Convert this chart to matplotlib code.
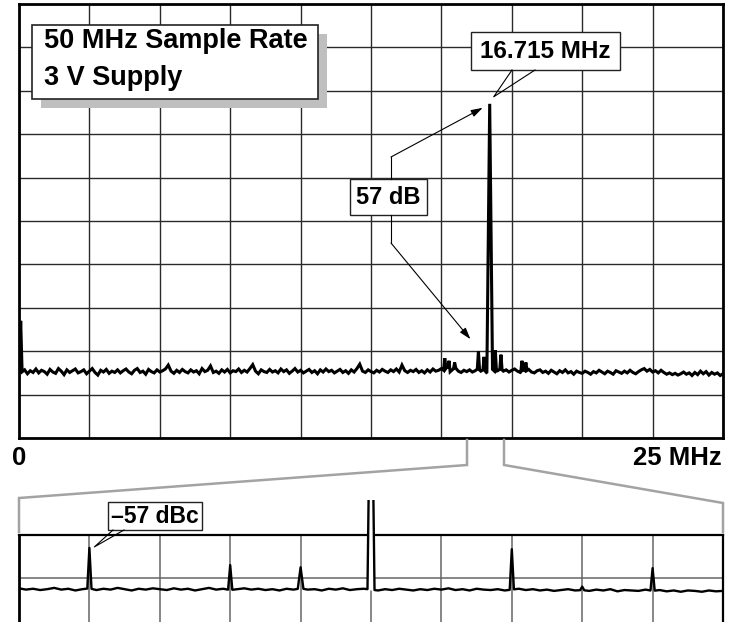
import numpy as np
import matplotlib
matplotlib.use("Agg")
import matplotlib.pyplot as plt
from matplotlib.patches import Rectangle
from matplotlib.lines import Line2D

plt.rcParams['font.family'] = ['Liberation Sans', 'DejaVu Sans']

W, H = 733, 622

# ---------------- full span: 0 .. 25 MHz, 0.1 MHz bins (dBFS) ----------------
span_start_mhz = 0.0
span_step_mhz = 0.1
span_floor_db = [
    -84.0, -84.8, -84.3, -85.2, -84.5, -84.9, -84.1, -85.0, -84.4, -84.7,
    -85.3, -84.2, -84.8, -85.1, -84.0, -84.6, -85.4, -84.3, -84.9, -84.5,
    -84.1, -85.0, -84.7, -84.3, -85.2, -84.6, -84.0, -84.9, -85.5, -84.4,
    -84.8, -84.2, -85.1, -84.6, -84.9, -84.3, -85.0, -84.5, -84.1, -84.8,
    -85.2, -84.4, -84.0, -84.9, -84.6, -85.3, -84.2, -84.7, -85.0, -84.3,
    -84.8, -84.5, -84.1, -83.2, -84.6, -85.1, -84.4, -84.9, -84.2, -84.7,
    -85.0, -84.3, -84.8, -84.5, -85.2, -84.0, -84.7, -84.4, -83.4, -84.9,
    -84.6, -85.1, -84.3, -84.8, -84.2, -85.0, -84.5, -84.7, -84.1, -84.9,
    -84.4, -84.8, -84.0, -83.1, -84.6, -85.2, -84.3, -84.7, -84.9, -84.2,
    -84.8, -84.5, -85.0, -84.1, -84.7, -84.3, -85.1, -84.6, -84.0, -84.8,
    -84.4, -85.0, -84.6, -84.2, -84.9, -84.5, -85.2, -84.3, -84.8, -84.1,
    -84.7, -84.4, -85.0, -84.6, -84.2, -84.9, -84.5, -85.1, -84.3, -84.8,
    -84.0, -83.0, -84.6, -84.9, -84.3, -84.7, -85.0, -84.4, -84.8, -84.2,
    -84.6, -84.9, -84.3, -84.7, -84.1, -84.8, -83.2, -84.5, -84.9, -84.4,
    -84.7, -84.2, -84.9, -84.5, -85.0, -84.3, -84.8, -84.1, -84.6, -84.4,
    -84.0, -84.5, -83.6, -84.8, -84.2, -83.8, -84.6, -84.9, -84.4, -84.7,
    -84.3, -84.8, -84.5, -84.0, -84.6, -84.2, -84.9, -84.4, -84.1, -84.7,
    -84.5, -84.0, -84.6, -84.3, -84.8, -84.4, -84.1, -84.6, -84.9, -84.3,
    -84.6, -84.2, -84.8, -85.0, -84.5, -84.3, -84.9, -84.6, -85.1, -84.4,
    -84.8, -85.2, -84.5, -84.9, -84.3, -85.0, -84.7, -85.3, -84.6, -84.9,
    -85.1, -84.6, -84.9, -85.3, -84.7, -85.0, -84.4, -84.8, -85.2, -84.6,
    -84.9, -85.3, -84.5, -84.8, -85.1, -84.6, -85.0, -84.4, -84.9, -85.2,
    -84.7, -84.3, -84.0, -84.6, -84.2, -84.8, -84.5, -85.0, -84.4, -84.9,
    -85.3, -85.0, -85.4, -85.1, -85.5, -85.2, -84.8, -85.3, -85.0, -85.6,
    -84.9, -85.4, -84.6, -85.2, -84.7, -85.5, -84.9, -85.3, -85.0, -85.6,
    -85.2,
]
# discrete tones in the full span (DC, spurs, carrier)
span_tone_mhz = [0.06, 15.12, 15.27, 15.47, 16.315, 16.515, 16.715, 16.915, 17.115, 17.86, 18.0]
span_tone_db = [-73.0, -81.6, -82.2, -82.6, -80.0, -81.3, -23.0, -79.8, -80.8, -82.2, -82.6]
span_tone_halfwidth_mhz = [0.05, 0.04, 0.04, 0.04, 0.04, 0.04, 0.1, 0.04, 0.04, 0.04, 0.04]

carrier_mhz = 16.715
carrier_db = -23.0
spur_mhz = 16.315
spur_db = -80.0

# ---------------- zoomed span around the carrier: 1 MHz, 0.01 MHz bins (dBc) ----------------
zoom_start_mhz = 16.215
zoom_step_mhz = 0.01
zoom_floor_dbc = [
    -66.4, -66.7, -66.5, -66.8, -66.6, -66.3, -66.7, -66.5, -66.9, -66.6,
    -66.4, -66.8, -66.5, -66.7, -66.3, -66.6, -66.9, -66.5, -66.7, -66.4,
    -66.6, -66.8, -66.4, -66.7, -66.5, -66.9, -66.6, -66.3, -66.7, -66.5,
    -66.8, -66.6, -66.4, -66.7, -66.5, -66.8, -66.6, -66.9, -66.5, -66.7,
    -66.4, -66.7, -66.6, -66.9, -66.5, -66.7, -66.4, -66.8, -66.6, -66.5,
    -66.7, -66.9, -66.6, -66.8, -66.5, -66.7, -66.9, -66.6, -66.8, -66.5,
    -66.7, -66.4, -66.8, -66.6, -66.9, -66.5, -66.7, -66.8, -66.6, -66.9,
    -66.7, -66.5, -66.8, -66.6, -66.9, -66.7, -67.0, -66.8, -66.6, -66.9,
    -66.8, -67.0, -66.7, -66.9, -66.6, -67.1, -66.8, -66.9, -67.0, -66.7,
    -67.0, -66.8, -67.1, -66.9, -67.2, -66.9, -67.0, -67.2, -66.9, -67.1,
    -67.0,
]
zoom_tone_mhz = [16.315, 16.515, 16.615, 16.715, 16.915, 17.015, 17.115]
zoom_tone_dbc = [-57.0, -61.0, -61.5, 0.0, -57.3, -66.0, -61.7]
zoom_tone_halfwidth_mhz = [0.003, 0.003, 0.004, 0.005, 0.003, 0.003, 0.003]


def build_trace(start, step, floor, tone_f, tone_v, tone_hw):
    f = start + step * np.arange(len(floor))
    v = np.asarray(floor, float)
    tf = np.asarray(tone_f, float)
    tv = np.asarray(tone_v, float)
    hw = np.asarray(tone_hw, float)
    keep = np.ones(len(f), bool)
    for c, h in zip(tf, hw):
        keep &= np.abs(f - c) > h
    left, right = tf - hw, tf + hw
    fx = np.concatenate([f[keep], left, tf, right])
    vy = np.concatenate([v[keep], np.interp(left, f, v), tv, np.interp(right, f, v)])
    order = np.argsort(fx, kind="stable")
    return fx[order], vy[order]


def fig_xy(px, py):
    return px / W, 1 - py / H


fig = plt.figure(figsize=(W / 100, H / 100), dpi=100)

# ---------------- main spectrum ----------------
ax = fig.add_axes([19 / W, 1 - 438 / H, 704 / W, 434 / H])
ax.set_xlim(0, 25)
ax.set_ylim(-100, 0)
ax.set_xticks(np.arange(0, 25.01, 2.5))
ax.set_yticks(np.arange(-100, 0.1, 10))
ax.grid(True, color="#2a2a2a", lw=1.0)
ax.tick_params(length=0, labelbottom=False, labelleft=False)
for s in ax.spines.values():
    s.set_linewidth(2.0)
    s.set_color("black")

sx, sy = build_trace(span_start_mhz, span_step_mhz, span_floor_db,
                     span_tone_mhz, span_tone_db, span_tone_halfwidth_mhz)
ax.plot(sx, sy, color="black", lw=2.2, solid_joinstyle="miter", zorder=3)

# ---------------- zoomed spectrum ----------------
axz = fig.add_axes([19 / W, 0.0, 704 / W, 87 / H])
axz.set_xlim(zoom_start_mhz, zoom_start_mhz + 1.0)
axz.set_ylim(-54 - 87 / 4.3, -54)
axz.set_xticks(zoom_start_mhz + 0.1 * np.arange(11))
axz.set_yticks([-64])
axz.grid(True, color="#666666", lw=1.1)
axz.tick_params(length=0, labelbottom=False, labelleft=False)
axz.spines["bottom"].set_visible(False)
axz.spines["top"].set_linewidth(1.6)
axz.spines["left"].set_linewidth(2.0)
axz.spines["right"].set_linewidth(1.6)

zx, zy = build_trace(zoom_start_mhz, zoom_step_mhz, zoom_floor_dbc,
                     zoom_tone_mhz, zoom_tone_dbc, zoom_tone_halfwidth_mhz)
# carrier is shown truncated a little above the frame
clip = Rectangle(fig_xy(19, 622), 704 / W, (622 - 500) / H,
                 transform=fig.transFigure, visible=False)
fig.add_artist(clip)
ci = zoom_tone_mhz.index(carrier_mhz)
chw = zoom_tone_halfwidth_mhz[ci]
m = (zx >= carrier_mhz - chw) & (zx <= carrier_mhz + chw)
fill = axz.fill_between(zx[m], zy[m], zy[m].min(), color="white", lw=0, zorder=3)
fill.set_clip_path(clip)
zl, = axz.plot(zx, zy, color="black", lw=1.7, zorder=4)
zl.set_clip_path(clip)

# ---------------- zoom bracket ----------------
gray = "#a3a3a3"
for xs, ys in (([467, 467, 19, 19], [440, 465, 498, 532]),
               ([504, 504, 723, 723], [440, 465, 503, 532])):
    fig.add_artist(Line2D([x / W for x in xs], [1 - y / H for y in ys],
                          color=gray, lw=1.8, solid_joinstyle="miter",
                          transform=fig.transFigure))

# ---------------- axis end labels ----------------
lab = dict(fontsize=18.5, fontweight="bold", va="center")
fig.text(*fig_xy(19.5, 458), "0", ha="center", **lab)
fig.text(*fig_xy(722, 458), "25 MHz", ha="right", **lab)


def box(x0, y0, x1, y1, shadow=None, lw=1.0):
    if shadow:
        fig.add_artist(Rectangle(fig_xy(x0 + shadow, y1 + shadow),
                                 (x1 - x0) / W, (y1 - y0) / H,
                                 transform=fig.transFigure, facecolor="#bfbfbf",
                                 edgecolor="none", zorder=5))
    fig.add_artist(Rectangle(fig_xy(x0, y1), (x1 - x0) / W, (y1 - y0) / H,
                             transform=fig.transFigure, facecolor="white",
                             edgecolor="#222222", lw=lw, zorder=6))


def seg(points, **kw):
    fig.add_artist(Line2D([p[0] / W for p in points], [1 - p[1] / H for p in points],
                          transform=fig.transFigure, color="black",
                          lw=kw.get("lw", 0.8), zorder=7))


def to_px(axes, x, y):
    dx, dy = axes.transData.transform((x, y))
    return dx, H - dy


def arrow(p_from, p_to):
    ax.annotate("", xy=(p_to[0], H - p_to[1]), xycoords="figure pixels",
                xytext=(p_from[0], H - p_from[1]), textcoords="figure pixels",
                arrowprops=dict(arrowstyle="-|>,head_length=0.7,head_width=0.22",
                                color="black", lw=0.8, shrinkA=0, shrinkB=0),
                annotation_clip=False, zorder=7)


# title box
box(32, 25, 318, 99, shadow=9, lw=1.2)
fig.text(*fig_xy(44, 48), "50 MHz Sample Rate", fontsize=19.5, fontweight="bold",
         va="baseline", ha="left", zorder=8)
fig.text(*fig_xy(44, 85), "3 V Supply", fontsize=19.5, fontweight="bold",
         va="baseline", ha="left", zorder=8)

# carrier frequency callout
cpx, cpy = to_px(ax, carrier_mhz, carrier_db)
tip = (cpx + 4, cpy - 7)
box(471, 32, 620, 70)
seg([(512, 70), tip, (535, 70)])
fig.text(*fig_xy(545.5, 51.5), f"{carrier_mhz:.3f} MHz", fontsize=17.5,
         fontweight="bold", ha="center", va="center", zorder=8)

# carrier-to-spur span callout
spx, spy = to_px(ax, spur_mhz, spur_db)
box(350, 179, 427, 215)
fig.text(*fig_xy(388.5, 197.5), f"{carrier_db - spur_db:.0f} dB", fontsize=17,
         fontweight="bold", ha="center", va="center", zorder=8)
seg([(391, 179), (391, 157)])
arrow((391, 157), (cpx - 7, cpy + 4))
seg([(391, 215), (391, 243)])
arrow((391, 243), (spx - 8, spy - 12))

# zoomed spur level callout
zi = zoom_tone_dbc.index(-57.0)
zpx, zpy = to_px(axz, zoom_tone_mhz[zi], zoom_tone_dbc[zi])
box(108, 502, 202, 530)
seg([(113, 530), (zpx + 5, zpy - 1), (124, 530)])
fig.text(*fig_xy(155, 516.5), f"\u2013{abs(zoom_tone_dbc[zi]):.0f} dBc", fontsize=16.5,
         fontweight="bold", ha="center", va="center", zorder=8)

fig.savefig("out.png", dpi=100)
